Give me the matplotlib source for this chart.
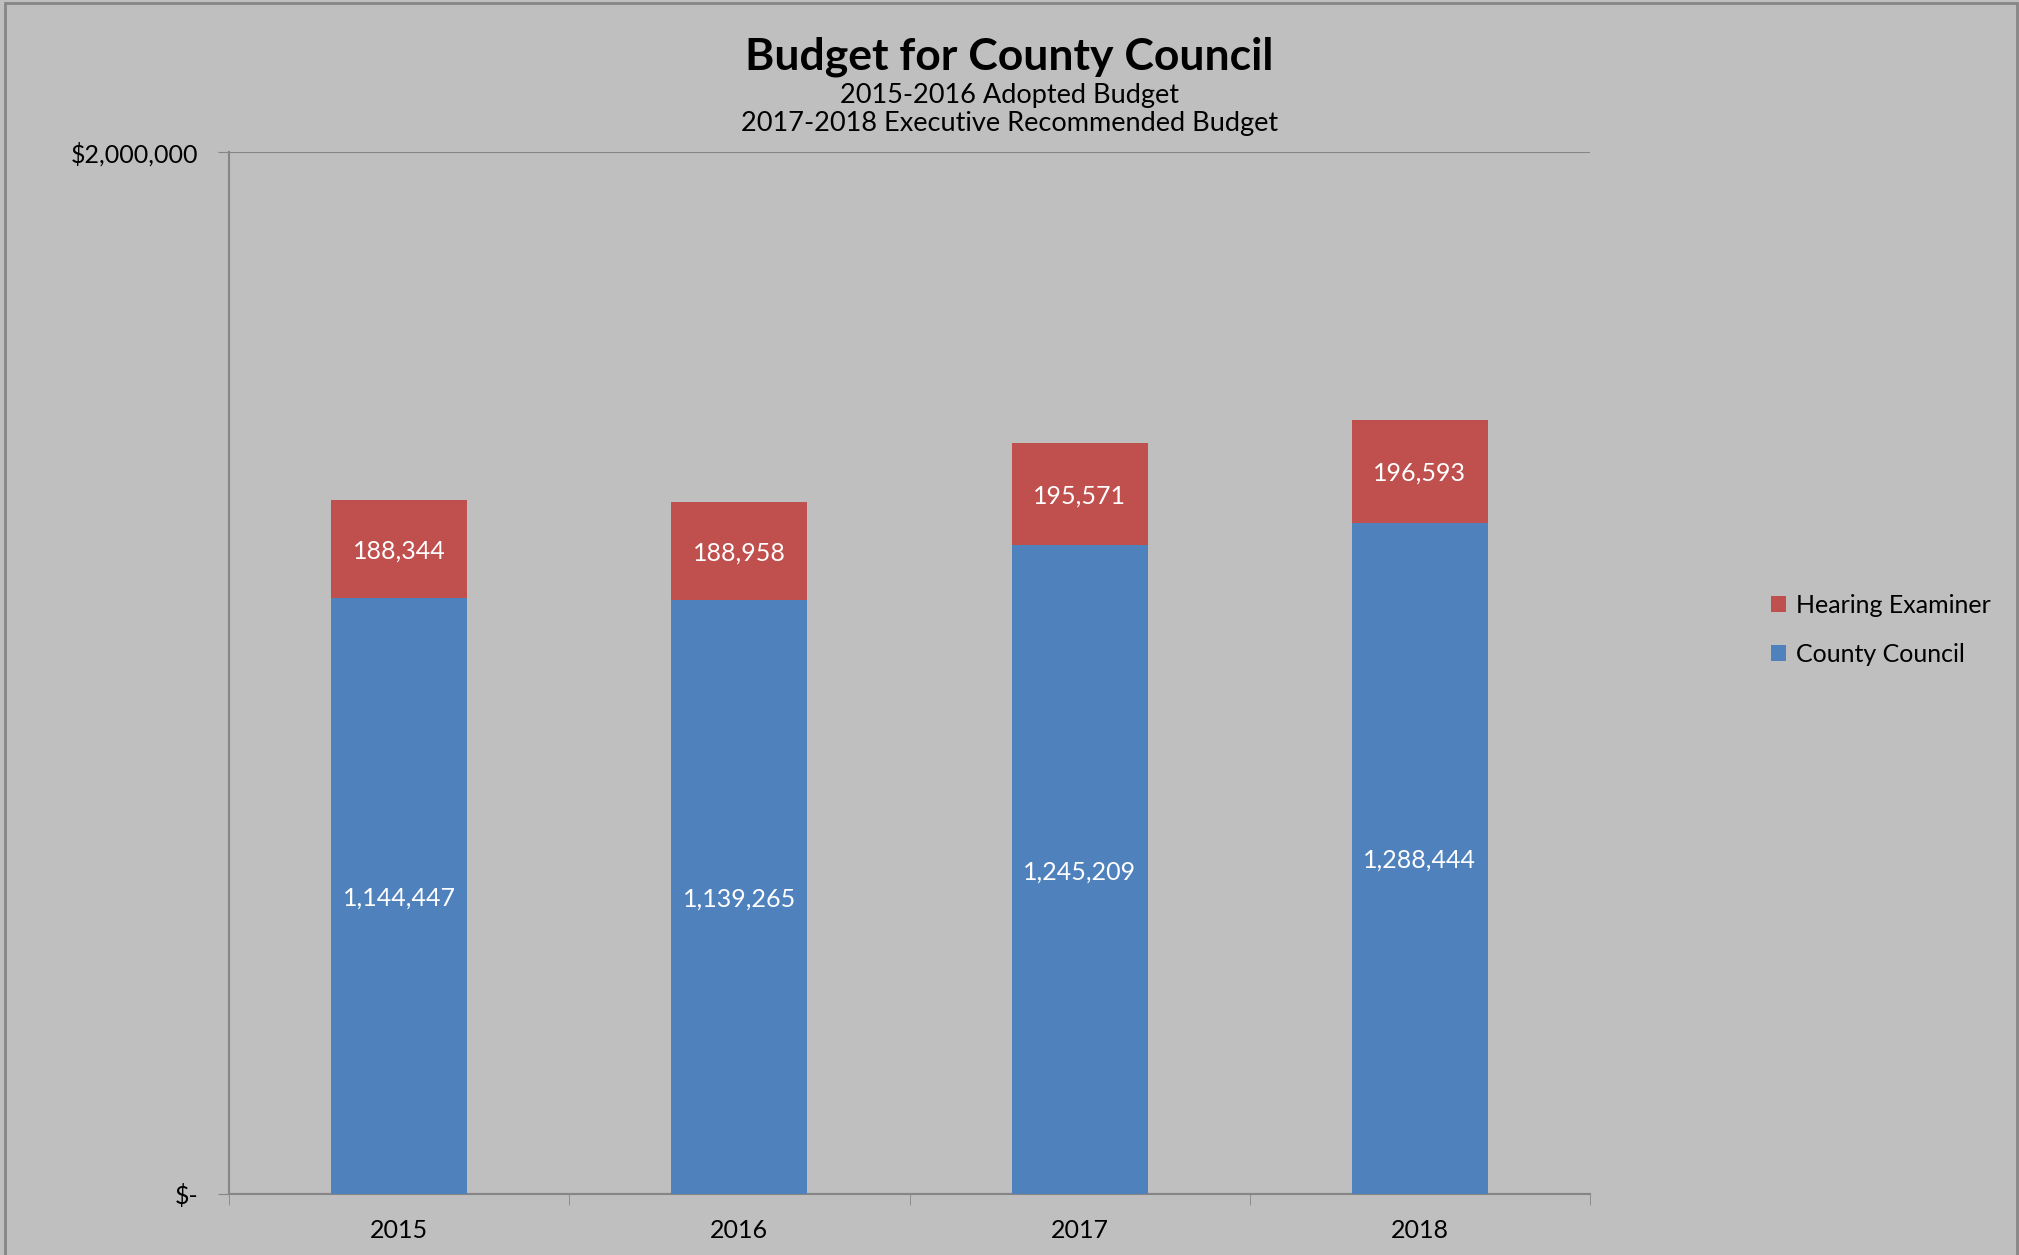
import matplotlib.pyplot as plt
from matplotlib.patches import Rectangle
from matplotlib.ticker import FixedLocator, FuncFormatter

# Values
years = ['2015', '2016', '2017', '2018']
county_council = [1144447, 1139265, 1245209, 1288444]
hearing_examiner = [188344, 188958, 195571, 196593]

blue = '#4F81BD'
red = '#C0504D'
grey = '#868686'
bg = '#BFBFBF'

plt.rcParams['font.family'] = ['Lato', 'DejaVu Sans']

W, H = 2019, 1255
fig = plt.figure(figsize=(W / 100, H / 100), dpi=100, facecolor=bg)

# Axes placed in pixel terms
left, right, top, bottom = 229, 1590, 152, 1194
ax = fig.add_axes([left / W, 1 - bottom / H, (right - left) / W, (bottom - top) / H])
ax.set_facecolor(bg)

x = range(len(years))
ax.bar(x, county_council, width=0.4, color=blue, label='County Council', zorder=3)
ax.bar(x, hearing_examiner, width=0.4, bottom=county_council, color=red,
       label='Hearing Examiner', zorder=3)

# Data labels in the middle of each segment
for i in x:
    ax.text(i, county_council[i] / 2, f'{county_council[i]:,}', ha='center',
            va='center_baseline', color='white', fontsize=18, zorder=4)
    ax.text(i, county_council[i] + hearing_examiner[i] / 2, f'{hearing_examiner[i]:,}',
            ha='center', va='center_baseline', color='white', fontsize=18, zorder=4)

ax.set_xlim(-0.5, 3.5)
ax.set_ylim(0, 2000000)

ax.set_yticks([0, 2000000])
ax.yaxis.set_major_formatter(FuncFormatter(lambda v, p: '$-' if v == 0 else f'${v:,.0f}'))
ax.tick_params(axis='y', direction='out', length=8, color=grey, labelsize=18, pad=14)
ax.grid(axis='y', color=grey, linewidth=1.5, zorder=1)

ax.set_xticks(list(x))
ax.set_xticklabels(years)
ax.xaxis.set_minor_locator(FixedLocator([-0.5, 0.5, 1.5, 2.5, 3.5]))
ax.tick_params(axis='x', which='major', length=0, labelsize=18, pad=18)
ax.tick_params(axis='x', which='minor', direction='out', length=8, color=grey)

for side in ['top', 'right']:
    ax.spines[side].set_visible(False)
for side in ['left', 'bottom']:
    ax.spines[side].set_color(grey)
    ax.spines[side].set_linewidth(1.5)

# Titles
fig.text(0.5, 1 - 57 / H, 'Budget for County Council', ha='center', va='center',
         fontsize=32, fontweight='bold')
fig.text(0.5, 1 - 95 / H, '2015-2016 Adopted Budget', ha='center', va='center',
         fontsize=19.5)
fig.text(0.5, 1 - 124 / H, '2017-2018 Executive Recommended Budget', ha='center',
         va='center', fontsize=19.5)

# Legend, Hearing Examiner on top
handles, labels = ax.get_legend_handles_labels()
leg = fig.legend(handles[::-1], labels[::-1], loc='center left',
                 bbox_to_anchor=(1748 / W, 1 - 630 / H), frameon=False, fontsize=18,
                 handlelength=0.6, handleheight=0.6, handletextpad=0.4, labelspacing=1.05)

# Outer chart border
fig.patches.append(Rectangle((5 / W, -0.02), (2017 - 5) / W, 1.02 - 3 / H,
                             transform=fig.transFigure, fill=False, edgecolor=grey,
                             linewidth=2))

plt.savefig('out.png', dpi=100, facecolor=bg)
